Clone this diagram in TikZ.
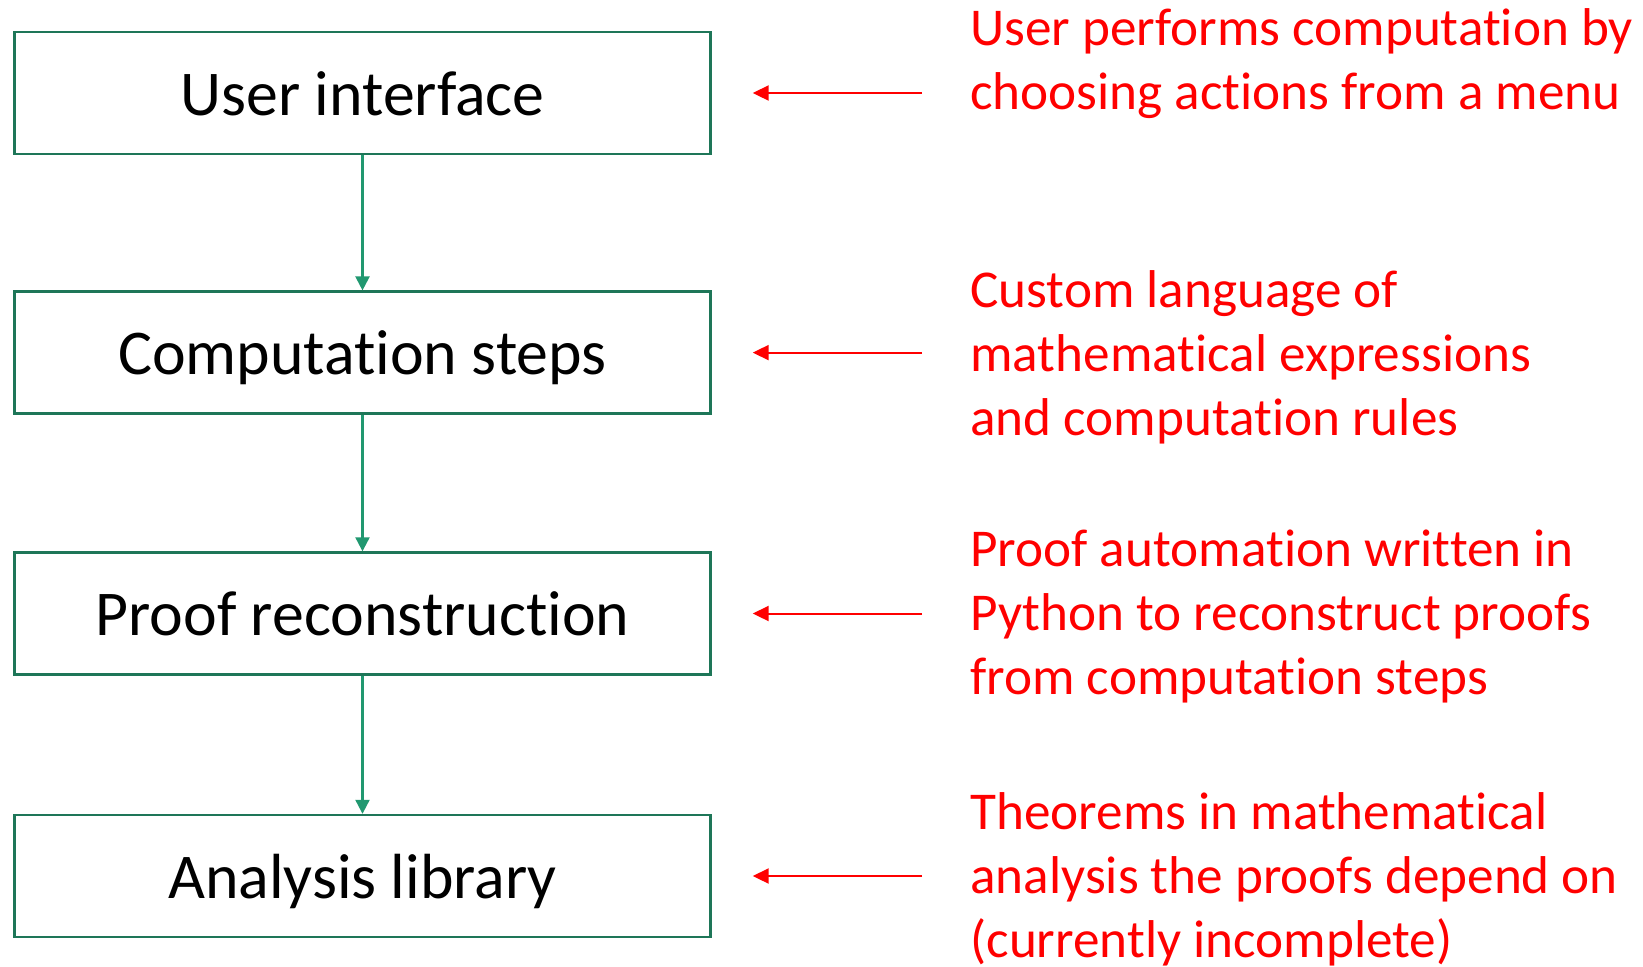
\documentclass[tikz,border=0pt]{standalone}
\usepackage{fontspec}
\setmainfont{Carlito}[Ligatures=NoCommon]
\usetikzlibrary{arrows.meta}
\definecolor{boxgreen}{RGB}{30,118,88}
\definecolor{flowgreen}{RGB}{33,152,112}
\definecolor{notered}{RGB}{255,0,0}

\begin{document}
\begin{tikzpicture}[x=0.5pt,y=-0.5pt]

      \useasboundingbox (0,0) rectangle (1643,966);

      \begin{scope}[every node/.style={draw=boxgreen,line width=1.2pt,minimum width=348pt,minimum height=61pt,inner sep=0pt,text height=25.5pt,text depth=3.5pt,font=\fontsize{31.9}{38}\selectfont}]
        \node (ui)    at (362.5,93)    {User interface};
        \node (steps) at (362.5,352.6) {Computation steps};
        \node (recon) at (362.5,613.5) {Proof reconstruction};
        \node (lib)   at (362.5,876)   {Analysis library};
      \end{scope}

      \begin{scope}[every node/.style={anchor=north west,align=left,inner sep=0pt,text=notered,font=\fontsize{26.6}{32}\selectfont}]
        \node (n1) at (970,8)   {User performs computation by\\choosing actions from a menu};
        \node (n2) at (970,270) {Custom language of\\mathematical expressions\\and computation rules};
        \node (n3) at (970,529) {Proof automation written in\\Python to reconstruct proofs\\from computation steps};
        \node (n4) at (970,792) {Theorems in mathematical\\analysis the proofs depend on\\(currently incomplete)};
      \end{scope}

      \begin{scope}[every edge/.style={draw=flowgreen,line width=1.1pt,-{Triangle[length=7pt,width=7pt]}}]
        \path (ui)    edge (steps);
        \path (steps) edge (recon);
        \path (recon) edge (lib);
      \end{scope}

      \begin{scope}[every edge/.style={draw=notered,line width=1pt,-{Triangle[length=8pt,width=7.5pt]},shorten <=24pt,shorten >=20.5pt}]
        \path (ui -| n1.west)    edge (ui.east);
        \path (steps -| n2.west) edge (steps.east);
        \path (recon -| n3.west) edge (recon.east);
        \path (lib -| n4.west)   edge (lib.east);
      \end{scope}

    \end{tikzpicture}
\end{document}
